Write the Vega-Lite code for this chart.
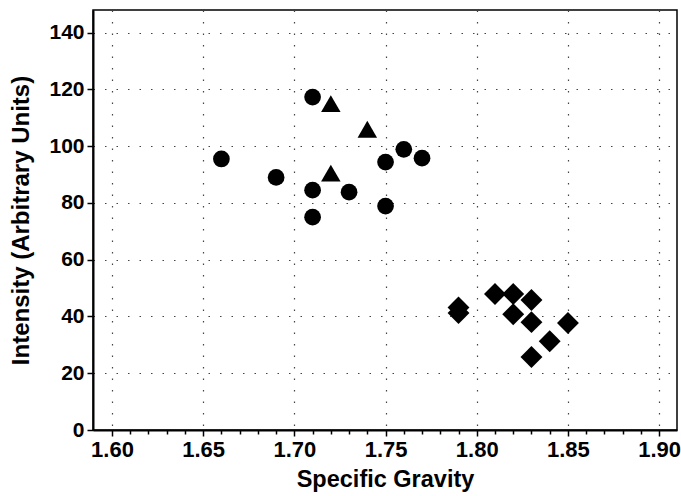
{
  "$schema": "https://vega.github.io/schema/vega-lite/v6.json",
  "width": 584,
  "height": 420,
  "autosize": {"type": "none"},
  "padding": {"left": 93, "top": 10, "right": 4, "bottom": 66},
  "background": "white",
  "config": {
    "view": {"stroke": "black", "strokeWidth": 1.5},
    "font": "Liberation Sans",
    "axis": {"labelFontSize": 21, "labelFontWeight": "bold", "labelColor": "black"}
  },
  "data": {
    "values": [
      {"sg": 1.66, "intensity": 95.5, "group": "A"},
      {"sg": 1.69, "intensity": 89, "group": "A"},
      {"sg": 1.71, "intensity": 117.3, "group": "A"},
      {"sg": 1.71, "intensity": 84.5, "group": "A"},
      {"sg": 1.71, "intensity": 75, "group": "A"},
      {"sg": 1.73, "intensity": 83.8, "group": "A"},
      {"sg": 1.75, "intensity": 94.4, "group": "A"},
      {"sg": 1.75, "intensity": 78.9, "group": "A"},
      {"sg": 1.76, "intensity": 98.9, "group": "A"},
      {"sg": 1.77, "intensity": 95.8, "group": "A"},
      {"sg": 1.72, "intensity": 115, "group": "B"},
      {"sg": 1.74, "intensity": 106, "group": "B"},
      {"sg": 1.72, "intensity": 90.5, "group": "B"},
      {"sg": 1.79, "intensity": 43.2, "group": "C"},
      {"sg": 1.79, "intensity": 41.2, "group": "C"},
      {"sg": 1.81, "intensity": 47.9, "group": "C"},
      {"sg": 1.82, "intensity": 47.9, "group": "C"},
      {"sg": 1.83, "intensity": 45.8, "group": "C"},
      {"sg": 1.82, "intensity": 40.8, "group": "C"},
      {"sg": 1.83, "intensity": 38, "group": "C"},
      {"sg": 1.85, "intensity": 37.7, "group": "C"},
      {"sg": 1.84, "intensity": 31.3, "group": "C"},
      {"sg": 1.83, "intensity": 25.7, "group": "C"}
    ]
  },
  "mark": {"type": "point", "filled": true, "opacity": 1, "color": "black", "strokeWidth": 0},
  "encoding": {
    "x": {
      "field": "sg",
      "type": "quantitative",
      "scale": {"domain": [1.5896, 1.9098], "nice": false, "zero": false},
      "axis": {
        "title": "Specific Gravity",
        "titleFontSize": 23.5,
        "titleFontWeight": "bold",
        "titleColor": "black",
        "titlePadding": 7,
        "values": [1.60,1.61,1.62,1.63,1.64,1.65,1.66,1.67,1.68,1.69,1.70,1.71,1.72,1.73,1.74,1.75,1.76,1.77,1.78,1.79,1.80,1.81,1.82,1.83,1.84,1.85,1.86,1.87,1.88,1.89,1.90],
        "labelExpr": "abs(round(datum.value*100) % 5) < 0.5 ? format(datum.value, '.2f') : ''",
        "labelFontSize": 22,
        "labelPadding": 3,
        "tickSize": {"condition": {"test": "abs(round(datum.value*100) % 5) < 0.5", "value": 6}, "value": 4},
        "tickColor": "black",
        "tickWidth": 1.5,
        "domainColor": "black",
        "domainWidth": 2,
        "grid": true,
        "gridColor": "#444",
        "gridDash": [1.5, 10],
        "gridWidth": 1.2,
        "gridOpacity": {"condition": {"test": "abs(round(datum.value*100) % 5) < 0.5", "value": 1}, "value": 0},
        "labelOverlap": false,
        "labelFlush": false
      }
    },
    "y": {
      "field": "intensity",
      "type": "quantitative",
      "scale": {"domain": [0, 148], "nice": false},
      "axis": {
        "title": "Intensity (Arbitrary Units)",
        "titleFontSize": 24,
        "titleFontWeight": "bold",
        "titleColor": "black",
        "titlePadding": 15,
        "values": [0, 20, 40, 60, 80, 100, 120, 140],
        "labelPadding": 3,
        "tickSize": 6,
        "tickColor": "black",
        "tickWidth": 1.5,
        "domainColor": "black",
        "domainWidth": 2,
        "grid": true,
        "gridColor": "#444",
        "gridDash": [1.5, 10],
        "gridWidth": 1.2,
        "labelFlush": false
      }
    },
    "shape": {
      "field": "group",
      "type": "nominal",
      "scale": {"domain": ["A", "B", "C"], "range": ["circle", "triangle-up", "diamond"]},
      "legend": null
    },
    "size": {
      "field": "group",
      "type": "nominal",
      "scale": {"domain": ["A", "B", "C"], "range": [280, 480, 310]},
      "legend": null
    }
  }
}
